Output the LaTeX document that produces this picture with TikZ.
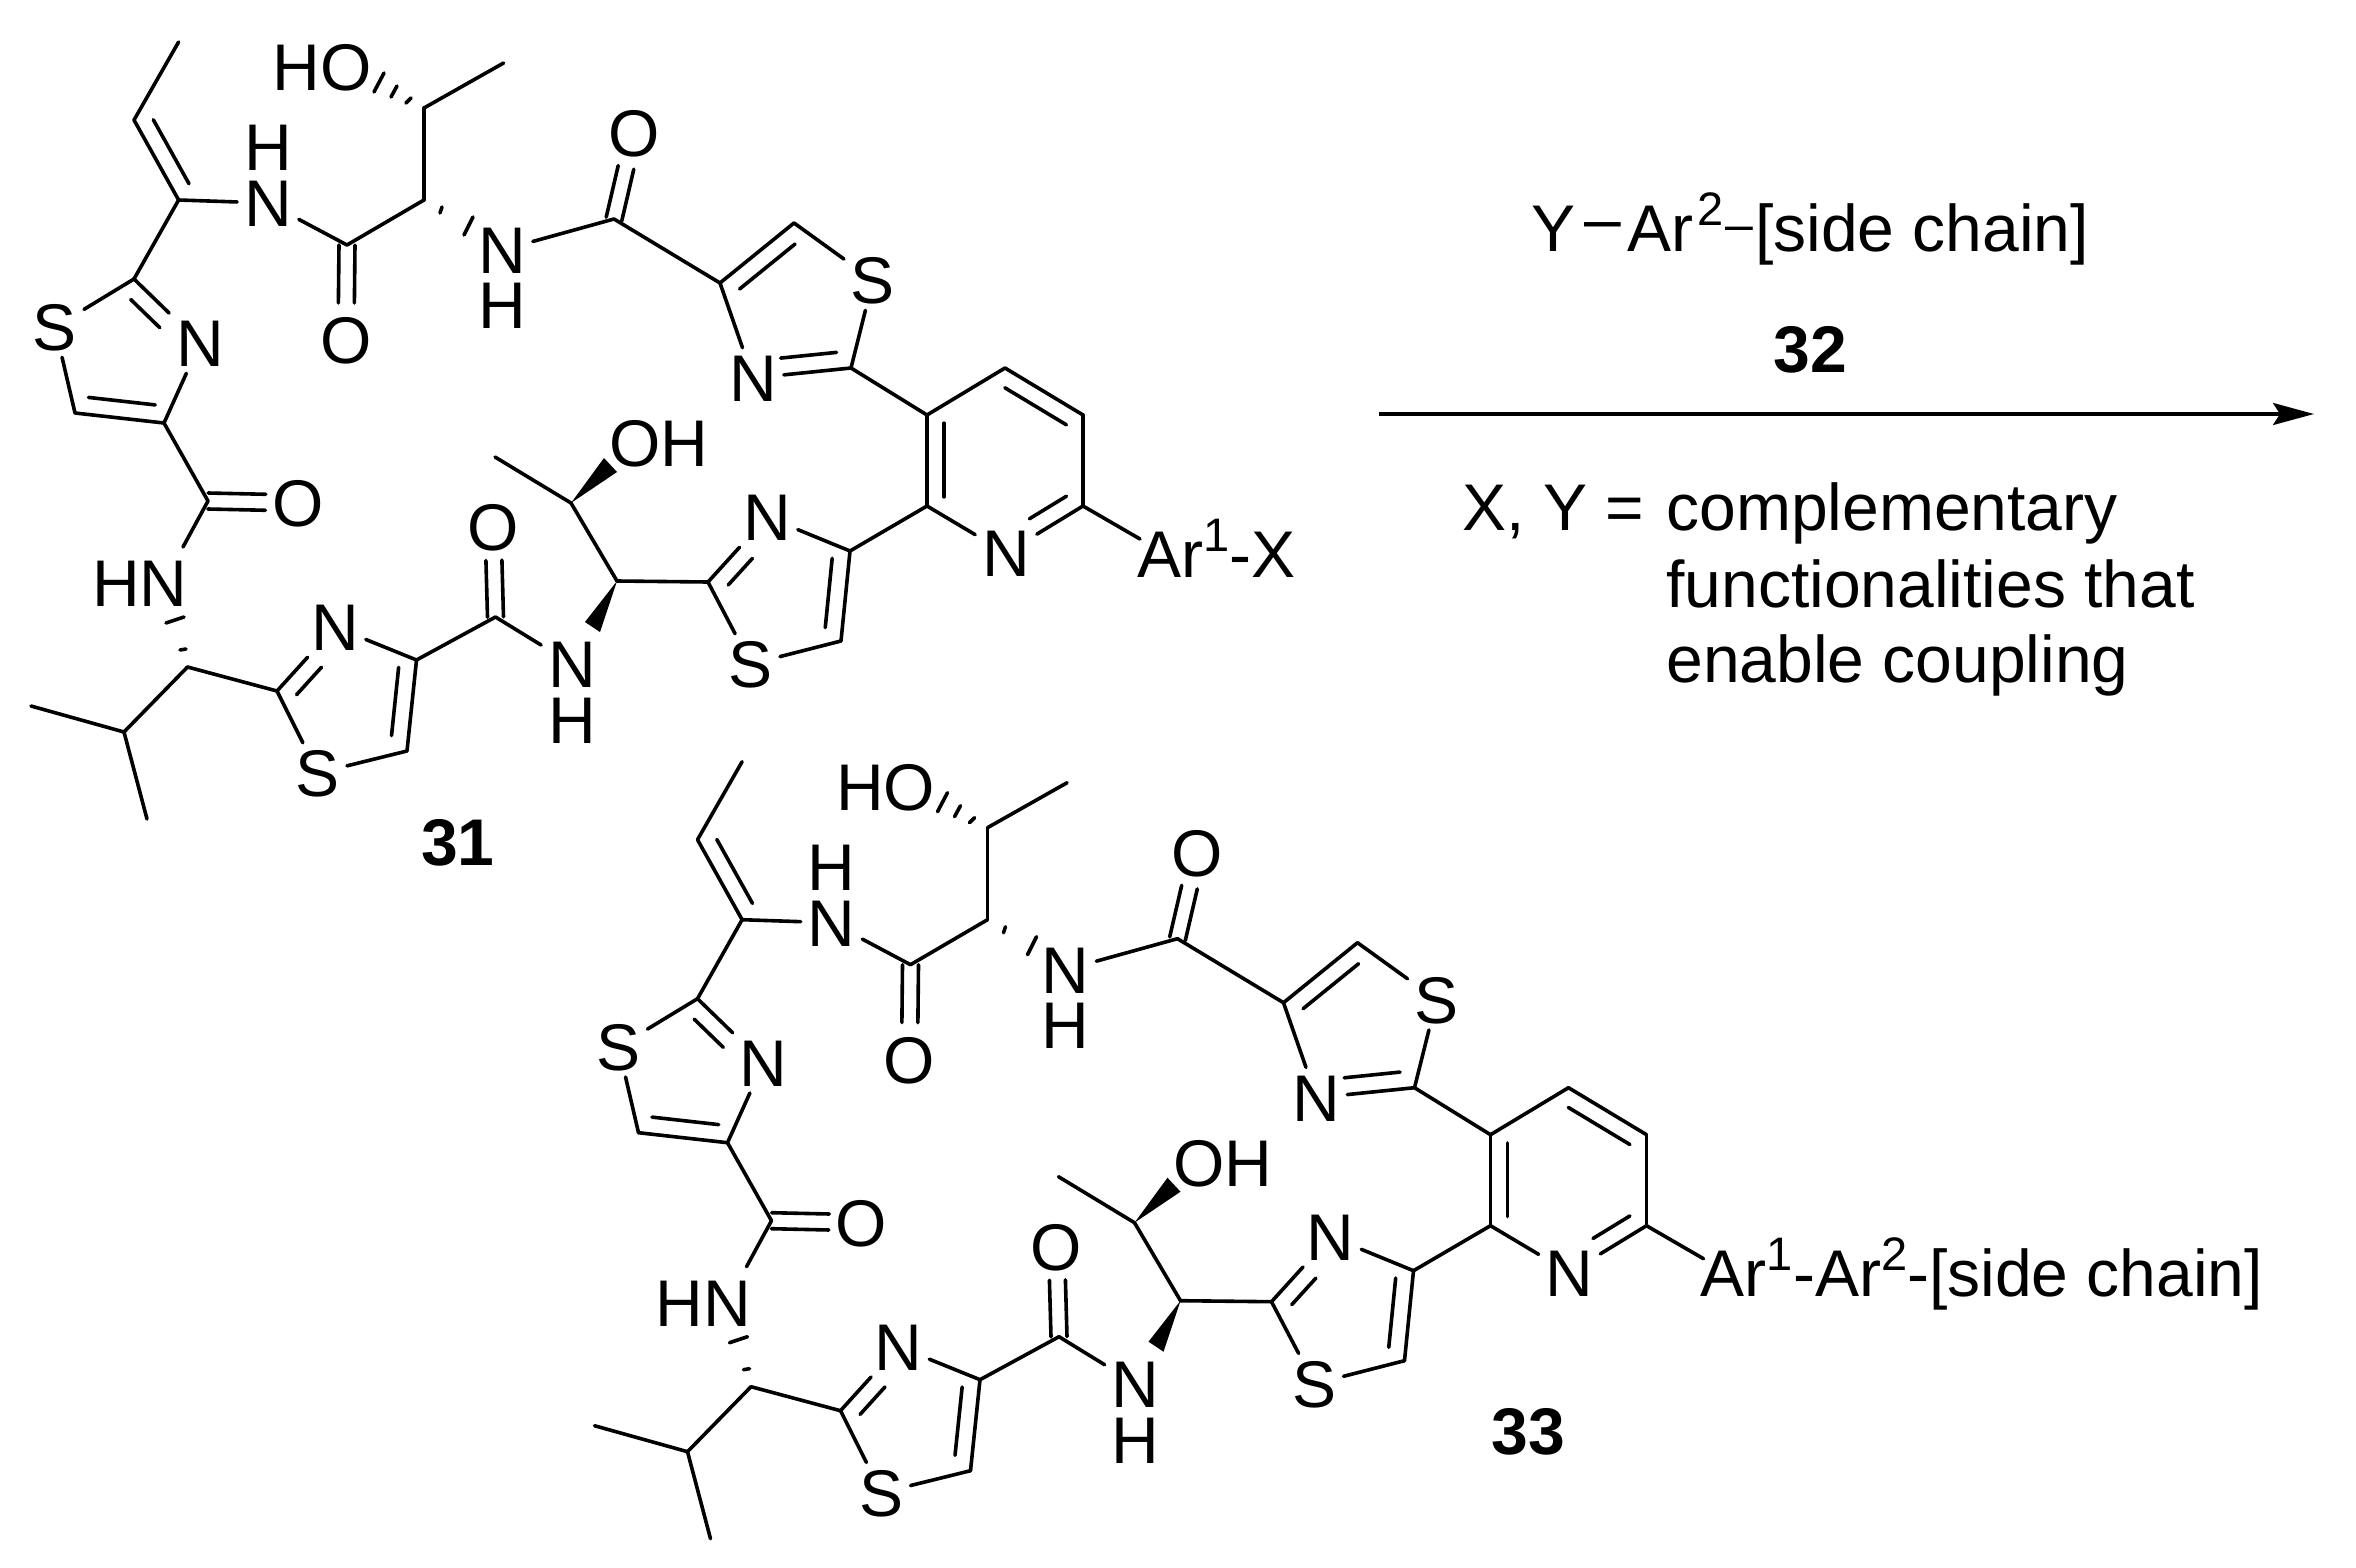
\documentclass[tikz,border=0pt]{standalone}
\usepackage{fontspec}
\setmainfont{Liberation Sans}
\usetikzlibrary{calc,arrows.meta}

\newcommand\chemfont{\fontsize{33}{38}\selectfont}
\newcommand\supr[1]{\raisebox{13pt}{\fontsize{23.5}{25}\selectfont #1}}
% inner line of a double bond: ends, two fractions, offset
\newcommand\inbond[5]{\draw[bond] ($($(#1)!#3!(#2)$)!#5!90:(#2)$) -- ($($(#1)!#4!(#2)$)!#5!90:(#2)$);}
% C=O drawn as two lines, no line through the middle
\newcommand\carbonyl[3]{\inbond{#1}{#2}{0}{#3}{4pt}\inbond{#1}{#2}{0}{#3}{-4pt}}

% the macrocycle, #1 is the text on the pyridine
\newcommand\macrocycle[1]{
  \foreach \n/\p in {me1/{178.6,42},c1/{134,120},c2/{178.6,200},c3/{347,245},c4/{424,200},c5/{424,108},me2/{503.6,63},c6/{614,219},
    ta2/{134,279},ta4/{164,423},ta5/{75,413},c7/{208,501},hnend/{183,547},c8/{187.5,667},c9/{124,732},me3/{31,706},me4/{147,819},
    tb2/{277,691},tb4/{416.5,660},tb5/{407,751},c10/{495.5,617},c11/{617,581},c12/{571,503},me5/{495,457},
    tc2/{708,582},tc4/{850,551},tc5/{841,641},p2/{927,506},p3/{927,415},p4/{1005,368},p5/{1083,415},p6/{1083,506},arend/{1140,539},
    td4/{720,283},td5/{794,223},td2/{851,368}}
    {\coordinate (\n) at (\p);}
  \foreach \n/\t/\p in {ho/HO/{322,67},oh/OH/{659,443},hn/HN/{140,583},n1/N/{268,203},o1/O/{346,340},n2/N/{502,250},
    o2/O/{634,133},sa/S/{55,327},na/N/{200,343},o3/O/{298,503},nb/N/{335,627},sb/S/{318,773},o4/O/{493,527},n3/N/{572,664},
    nc/N/{767,517},sc/S/{751,664},np/N/{1006,553},sd/S/{873,280},nd/N/{753,378}}
    {\node[atom] (\n) at (\p) {\t};}
  \foreach \n/\p in {h1/{268,147},h2/{502,305},h3/{572,720}}
    {\node[atom,inner sep=0pt] (\n) at (\p) {H};}
  \node[anchor=base west,inner sep=0pt] (ar) at (1137,577) {#1};
  % single bonds
  \foreach \a/\b in {me1/c1,c1/c2,c2/ta2,c2/n1,n1/c3,c3/c4,c4/c5,c5/me2,n2/c6,c6/td4,ta2/sa,sa/ta5,ta2/na,na/ta4,ta4/ta5,ta4/c7,c7/hnend,
    c8/c9,c9/me3,c9/me4,c8/tb2,tb2/nb,nb/tb4,tb4/tb5,tb5/sb,sb/tb2,tb4/c10,c10/n3,c11/c12,c12/me5,c11/tc2,tc2/nc,nc/tc4,tc4/tc5,tc5/sc,sc/tc2,
    tc4/p2,p2/p3,p3/p4,p4/p5,p5/p6,p6/np,np/p2,p6/arend,p3/td2,td2/sd,sd/td5,td5/td4,td4/nd,nd/td2}
    {\draw[bond] (\a) -- (\b);}
  % double bonds
  \inbond{c1}{c2}{.1}{.9}{8.5pt}
  \inbond{ta2}{na}{.13}{.57}{-8.5pt}
  \inbond{ta4}{ta5}{.12}{.87}{-8.5pt}
  \inbond{tb2}{nb}{.12}{.55}{-8.5pt}
  \inbond{tb4}{tb5}{.1}{.85}{-8.5pt}
  \inbond{tc2}{nc}{.13}{.54}{-8.5pt}
  \inbond{tc4}{tc5}{.1}{.87}{-8.5pt}
  \inbond{td4}{td5}{.12}{.87}{-8.5pt}
  \inbond{td2}{nd}{.13}{.7}{-8.5pt}
  \inbond{p3}{p2}{.09}{.9}{8.5pt}
  \inbond{p4}{p5}{.11}{.9}{-8.5pt}
  \inbond{p6}{np}{.1}{.58}{-8.5pt}
  \carbonyl{c3}{o1}{.61}
  \carbonyl{c6}{o2}{.6}
  \carbonyl{c7}{o3}{.64}
  \carbonyl{c10}{o4}{.63}
  % wedges and hashes
  \fill (c12) -- (604,458) -- (617,472) -- cycle;
  \fill (c11) -- (585,622) -- (600,632) -- cycle;
  \foreach \u/\v in {{374,92}/{384,73},{391,97}/{397,86},{406,103}/{411,98},{440,213}/{442,207},{464,235}/{473,217},{166,623}/{184,617},{180,650}/{186,649}}
    {\draw[bond] (\u) -- (\v);}
}

\begin{document}
\begin{tikzpicture}[
  x=.5pt,y=-.5pt,
  every node/.style={font=\chemfont},
  bond/.style={line width=1.8pt,line cap=round,line join=round},
  atom/.style={inner sep=3.5pt,outer sep=0pt,text height=23.3pt,text depth=0pt},
  label/.style={anchor=base,inner sep=0pt,font=\chemfont\bfseries},
  textline/.style={anchor=base west,inner sep=0pt}
]
\useasboundingbox (0,0) rectangle (2356,1568);

\begin{scope}[name prefix=a-]
  \macrocycle{Ar\supr{1}-X}
\end{scope}
\node[label] (lab31) at (458,865) {31};

\begin{scope}[name prefix=b-,shift={(563.5,719.7)}]
  \macrocycle{Ar\supr{1}-Ar\supr{2}-[side chain]}
\end{scope}
\node[label] (lab33) at (1528,1454) {33};

% reaction arrow and conditions
\coordinate (arrowstart) at (1379,414);
\coordinate (arrowend) at (2314,414);
\draw[line width=1.7pt,-{Stealth[length=20.5pt,width=11pt,inset=3.5pt]}] (arrowstart) -- (arrowend);
\node[textline] (reagent) at (1531,251) {Y\hspace{4.5pt}\raisebox{5pt}{–}\hspace{3pt}Ar\hspace{2pt}\supr{2}\hspace{1pt}\raisebox{5pt}{\fontsize{25}{25}\selectfont –}\hspace{1pt}[side chain]};
\node[label] (lab32) at (1810,372) {32};
\node[textline] (xy) at (1462,530) {X, Y =};
\node[textline] (line1) at (1666,530) {complementary};
\node[textline] (line2) at (1666,607) {functionalities that};
\node[textline] (line3) at (1666,682) {enable coupling};
\end{tikzpicture}
\end{document}
